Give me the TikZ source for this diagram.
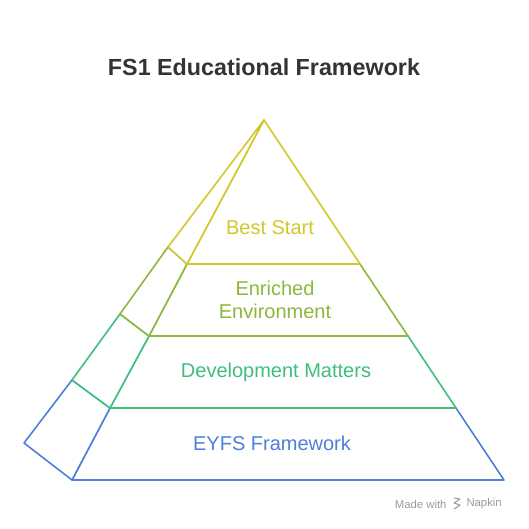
\documentclass[tikz,border=0pt]{standalone}
\usepackage{fontspec}
\setmainfont{Liberation Sans}
\definecolor{cyel}{HTML}{D3C72B}
\definecolor{clime}{HTML}{8DB83D}
\definecolor{cgreen}{HTML}{3FBF7E}
\definecolor{cblue}{HTML}{4E80DA}
\definecolor{ctitle}{HTML}{333333}
\definecolor{cgray}{HTML}{9A9A9A}
\begin{document}
\begin{tikzpicture}[x=1pt,y=-1pt,
  tier/.style={draw=#1,line width=1.6pt,line join=round,fill=white},
  lbl/.style={text=#1,font=\fontsize{20}{23}\selectfont,align=center}]
\useasboundingbox (0,0) rectangle (528,529);
\node[font=\bfseries\fontsize{23.3}{27}\selectfont,text=ctitle] (title) at (264,67) {FS1 Educational Framework};
% coordinates
\coordinate (A) at (264,120);
\coordinate (F1) at (187,264); \coordinate (R1) at (360,264); \coordinate (B1) at (168,247);
\coordinate (F2) at (149,336); \coordinate (R2) at (408,336); \coordinate (B2) at (120,314);
\coordinate (F3) at (110,408); \coordinate (R3) at (456,408); \coordinate (B3) at (72,380);
\coordinate (F4) at (72,480);  \coordinate (R4) at (504,480); \coordinate (B4) at (24,443);
% bottom tier
\draw[tier=cblue] (F3) -- (R3) -- (R4) -- (F4) -- cycle;
\draw[tier=cblue] (B3) -- (F3) -- (F4) -- (B4) -- cycle;
% third tier
\draw[tier=cgreen] (F2) -- (R2) -- (R3) -- (F3) -- cycle;
\draw[tier=cgreen] (B2) -- (F2) -- (F3) -- (B3) -- cycle;
% second tier
\draw[tier=clime] (F1) -- (R1) -- (R2) -- (F2) -- cycle;
\draw[tier=clime] (B1) -- (F1) -- (F2) -- (B2) -- cycle;
% top tier
\draw[tier=cyel] (A) -- (R1) -- (F1) -- cycle;
\draw[tier=cyel] (A) -- (F1) -- (B1) -- cycle;
% labels
\node[lbl=cyel] (l1) at (270,228) {Best Start};
\node[lbl=clime] (l2) at (275,300) {Enriched\\Environment};
\node[lbl=cgreen] (l3) at (276,372) {Development Matters};
\node[lbl=cblue] (l4) at (272,443) {EYFS Framework};
% footer
\node[text=cgray,font=\fontsize{11.3}{13}\selectfont,anchor=east] (mw) at (450,504) {Made with};
\node[text=cgray,font=\fontsize{11.3}{13}\selectfont,anchor=west] (nk) at (463,504) {Napkin};
\draw[cgray,line width=1pt,line cap=round,line join=round] (454,498) -- (460,499) -- (454,503) -- (460,505) -- (454,509);
\end{tikzpicture}
\end{document}
